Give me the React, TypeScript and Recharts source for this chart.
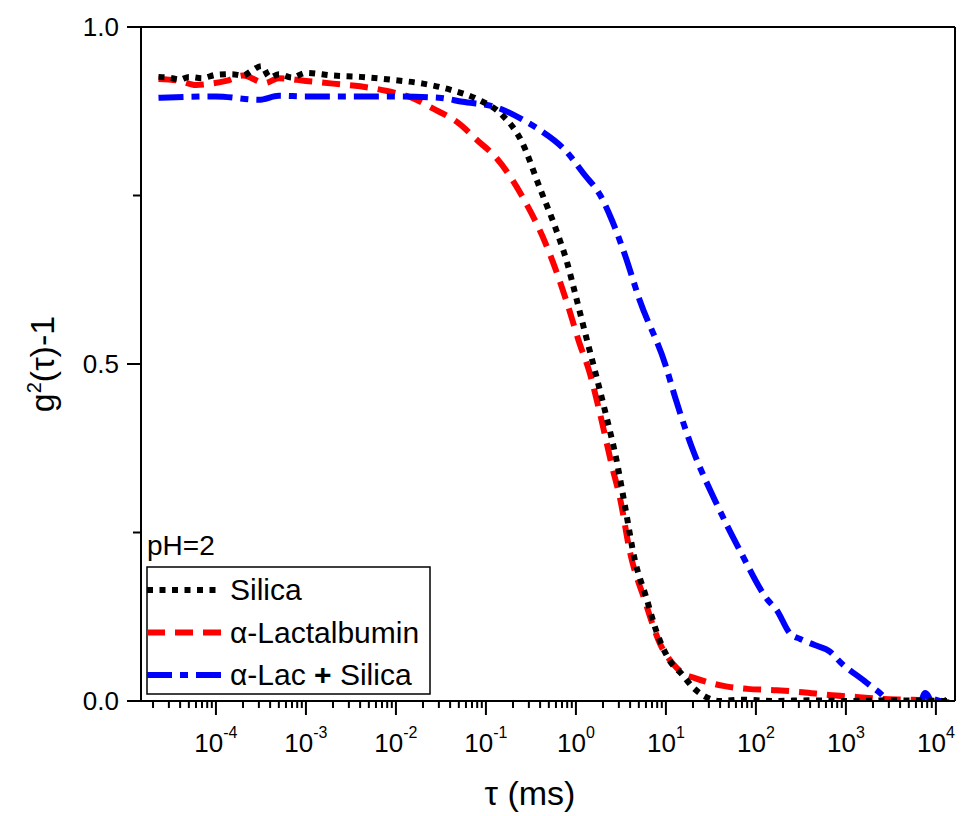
import { LineChart, Line, XAxis, YAxis, ReferenceLine } from "recharts";

const FONT = "'Liberation Sans', Arial, Helvetica, sans-serif";

// delay time tau (ms) and g2(tau)-1 for each sample
const tauSilica = [
  2.3e-5, 3e-5, 4e-5, 5e-5, 7e-5, 1e-4, 1.5e-4, 2e-4, 2.5e-4, 3.2e-4, 4e-4, 5e-4, 7e-4,
  1e-3, 2e-3, 4e-3, 1e-2, 2e-2, 4e-2, 0.08, 0.15, 0.25, 0.4, 0.6, 0.8, 1.0, 1.3, 1.7,
  2.2, 2.8, 3.5, 4.5, 6, 8, 11, 15, 20, 27, 40, 70, 150, 400, 1000, 3000, 1.4e4,
];
const g2Silica = [
  0.926, 0.925, 0.922, 0.926, 0.924, 0.929, 0.93, 0.928, 0.935, 0.942, 0.925, 0.93, 0.925,
  0.932, 0.928, 0.926, 0.921, 0.916, 0.907, 0.893, 0.87, 0.83, 0.76, 0.7, 0.65, 0.6, 0.54, 0.48,
  0.42, 0.36, 0.29, 0.21, 0.155, 0.1, 0.06, 0.04, 0.02, 0.007, 0.0, 0.002, 0.0, 0.001, 0.0, 0.001, 0.0,
];

const tauLac = [
  2.3e-5, 4e-5, 6e-5, 9e-5, 1.3e-4, 2e-4, 3.5e-4, 5e-4, 1e-3, 2e-3, 4e-3, 8e-3, 1.5e-2,
  2.5e-2, 5e-2, 0.08, 0.13, 0.25, 0.49, 0.8, 1.1, 1.4, 1.9, 2.5, 3.1, 4, 5.8, 8.6, 12, 16,
  21, 45, 80, 170, 330, 650, 1300, 2600, 5000, 1e4, 1.4e4,
];
const g2Lac = [
  0.923, 0.92, 0.914, 0.916, 0.92, 0.928, 0.917, 0.924, 0.92, 0.916, 0.912, 0.905, 0.895,
  0.88, 0.857, 0.832, 0.806, 0.75, 0.67, 0.59, 0.53, 0.49, 0.42, 0.35, 0.3, 0.22, 0.15, 0.085, 0.055, 0.04,
  0.034, 0.022, 0.018, 0.016, 0.013, 0.009, 0.006, 0.003, 0.002, 0.0, -0.002,
];

const tauMix = [
  2.3e-5, 1e-4, 3e-4, 5e-4, 1e-3, 1e-2, 3e-2, 0.055, 0.13, 0.26, 0.4, 0.75, 1.26, 1.85, 2.5,
  3.5, 5.1, 9.8, 12.9, 20, 35, 66, 135, 170, 240, 310, 450, 670, 860, 1700, 2900, 3800, 4900,
  6300, 7600, 9800, 1.1e4, 1.35e4,
];
const g2Mix = [
  0.895, 0.897, 0.892, 0.898, 0.897, 0.897, 0.895, 0.889, 0.881, 0.862, 0.847, 0.818, 0.78, 0.751, 0.714,
  0.662, 0.595, 0.5, 0.447, 0.372, 0.298, 0.224, 0.15, 0.135, 0.1, 0.092, 0.083, 0.073, 0.058, 0.027, 0.0, -0.024, -0.025,
  -0.016, 0.012, -0.009, 0.009, -0.013,
];

const xMajor = [1e-4, 1e-3, 1e-2, 1e-1, 1, 10, 100, 1000, 10000];
const yTicks = [0, 0.25, 0.5, 0.75, 1];
const yLabels = [0, 0.5, 1];
const X_MIN = 1.47e-5;
const X_MAX = 1.63e4;

const toPoints = (t: number[], g: number[]) => t.map((tau, i) => ({ tau, g: g[i] }));
const silica = toPoints(tauSilica, g2Silica);
const lac = toPoints(tauLac, g2Lac);
const mix = toPoints(tauMix, g2Mix);

// major + minor ticks of the log axis
const xTicks: number[] = [];
for (let k = -5; k <= 4; k++) {
  for (let m = 1; m <= 9; m++) {
    const v = Number((m * Math.pow(10, k)).toPrecision(6));
    if (v >= X_MIN && v <= X_MAX) xTicks.push(v);
  }
}

function XTick(props: any) {
  const { x, y, payload } = props;
  const v = payload.value;
  const exp = Math.round(Math.log10(v));
  const major = xMajor.some((t) => Math.abs(t - v) < t * 1e-6);
  return (
    <g>
      <line x1={x} x2={x} y1={y} y2={y + (major ? 14 : 7)} stroke="#000" strokeWidth={2} />
      {major && (
        <text x={x} y={y + 51} textAnchor="middle" fontSize={26} fontFamily={FONT} fill="#000">
          10
          <tspan dy={-14} fontSize={16}>
            {String(exp)}
          </tspan>
        </text>
      )}
    </g>
  );
}

function YTick(props: any) {
  const { x, y, payload } = props;
  const v = payload.value;
  const major = yLabels.includes(v);
  return (
    <g>
      <line x1={x} x2={x - (major ? 14 : 8)} y1={y} y2={y} stroke="#000" strokeWidth={2} />
      {major && (
        <text x={x - 22} y={y + 9} textAnchor="end" fontSize={26} fontFamily={FONT} fill="#000">
          {v.toFixed(1)}
        </text>
      )}
    </g>
  );
}

const legendItems = [
  { name: "Silica", color: "#000", dash: "6 6.5" },
  { name: "α-Lactalbumin", color: "#ff0000", dash: "18 10" },
  { name: "α-Lac", color: "#0000ff", dash: "25 8 8 8" },
];

function Legend() {
  return (
    <svg
      width={300}
      height={180}
      style={{ position: "absolute", left: 140, top: 525, overflow: "visible" }}
    >
      <text x={7} y={30} fontSize={28} fontFamily={FONT} fill="#000">
        pH=2
      </text>
      <rect x={7} y={42} width={283} height={127} fill="#fff" stroke="#000" strokeWidth={1.5} />
      {legendItems.map((it, i) => {
        const cy = 65 + i * 42.5;
        return (
          <g key={it.name}>
            <line
              x1={7}
              x2={82}
              y1={cy}
              y2={cy}
              stroke={it.color}
              strokeWidth={6}
              strokeDasharray={it.dash}
            />
            <text x={90} y={cy + 10} fontSize={30} fontFamily={FONT} fill="#000">
              {it.name}
              {i === 2 && (
                <>
                  {" "}
                  <tspan fontWeight="bold">+</tspan> Silica
                </>
              )}
            </text>
          </g>
        );
      })}
    </svg>
  );
}

function Titles() {
  return (
    <svg width={961} height={816} style={{ position: "absolute", left: 0, top: 0, pointerEvents: "none" }}>
      <text x={530} y={805} textAnchor="middle" fontSize={34} fontFamily={FONT} fill="#000">
        τ (ms)
      </text>
      <text
        x={54}
        y={364}
        transform="rotate(-90 54 364)"
        textAnchor="middle"
        fontSize={34}
        fontFamily={FONT}
        fill="#000"
      >
        g<tspan dy={-13} fontSize={20}>2</tspan>
        <tspan dy={13}>(τ)-1</tspan>
      </text>
    </svg>
  );
}

export default function App() {
  return (
    <div
      style={{
        position: "absolute",
        left: 0,
        top: 0,
        width: 961,
        height: 816,
        background: "#fff",
      }}
    >
      <LineChart width={961} height={816} margin={{ top: 27, right: 6, bottom: 114, left: 140 }}>
        <XAxis
          dataKey="tau"
          type="number"
          scale="log"
          domain={[X_MIN, X_MAX]}
          allowDataOverflow
          ticks={xTicks}
          interval={0}
          height={1}
          tickSize={0}
          tickMargin={0}
          tickLine={false}
          tick={<XTick />}
          axisLine={{ stroke: "#000", strokeWidth: 2 }}
        />
        <YAxis
          type="number"
          domain={[0, 1]}
          allowDataOverflow
          ticks={yTicks}
          interval={0}
          width={1}
          tickSize={0}
          tickMargin={0}
          tickLine={false}
          tick={<YTick />}
          axisLine={{ stroke: "#000", strokeWidth: 2 }}
        />
        <ReferenceLine y={1} stroke="#000" strokeWidth={2} />
        <ReferenceLine x={X_MAX} stroke="#000" strokeWidth={2} />
        <Line
          data={lac}
          dataKey="g"
          type="monotone"
          stroke="#ff0000"
          strokeWidth={6}
          strokeDasharray="18 10"
          dot={false}
          activeDot={false}
          isAnimationActive={false}
        />
        <Line
          data={mix}
          dataKey="g"
          type="monotone"
          stroke="#0000ff"
          strokeWidth={6}
          strokeDasharray="25 8 8 8"
          dot={false}
          activeDot={false}
          isAnimationActive={false}
        />
        <Line
          data={silica}
          dataKey="g"
          type="monotone"
          stroke="#000"
          strokeWidth={6}
          strokeDasharray="6 6.5"
          dot={false}
          activeDot={false}
          isAnimationActive={false}
        />
      </LineChart>
      <Titles />
      <Legend />
    </div>
  );
}
